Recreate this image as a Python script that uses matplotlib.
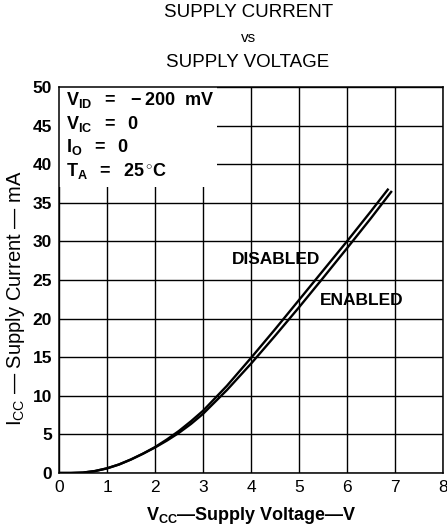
import matplotlib
matplotlib.use("Agg")
import matplotlib.pyplot as plt
from matplotlib.patches import Rectangle

plt.rcParams['font.family'] = ['Liberation Sans', 'DejaVu Sans']
plt.rcParams['mathtext.fontset'] = 'custom'
plt.rcParams['mathtext.rm'] = 'Liberation Sans'
plt.rcParams['mathtext.bf'] = 'Liberation Sans:bold'
plt.rcParams['mathtext.it'] = 'Liberation Sans'

# Supply current (mA) vs supply voltage (V)
v_disabled = [0, 0.25, 0.5, 0.75, 1.0, 1.25, 1.5, 1.75, 2.0, 2.25, 2.5, 2.75, 3.0,
              3.5, 4.0, 4.5, 5.0, 5.5, 6.0, 6.5, 6.85]
i_disabled = [0, 0.0, 0.05, 0.25, 0.6, 1.1, 1.75, 2.5, 3.35, 4.35, 5.45, 6.7, 8.05,
              11.3, 14.9, 18.6, 22.4, 26.2, 30.0, 33.9, 36.7]

v_enabled = [0, 0.25, 0.5, 0.75, 1.0, 1.25, 1.5, 1.75, 2.0, 2.25, 2.5, 2.75, 3.0,
             3.5, 4.0, 4.5, 5.0, 5.5, 6.0, 6.5, 6.92]
i_enabled = [0, 0.0, 0.05, 0.25, 0.6, 1.1, 1.75, 2.5, 3.3, 4.2, 5.2, 6.35, 7.65,
             10.75, 14.15, 17.75, 21.45, 25.25, 29.1, 33.0, 36.4]

x_ticks = [0, 1, 2, 3, 4, 5, 6, 7, 8]
y_ticks = [0, 5, 10, 15, 20, 25, 30, 35, 40, 45, 50]

fig = plt.figure(figsize=(4.47, 5.26), dpi=100)
ax = fig.add_axes([0.132, 0.1008, 0.859, 0.734])

ax.set_xlim(0, 8)
ax.set_ylim(0, 50)
ax.set_xticks(x_ticks)
ax.set_yticks(y_ticks)
ax.tick_params(length=0, pad=5)
ax.set_xticklabels([str(t) for t in x_ticks], fontsize=12.5)
ax.set_yticklabels([str(t) for t in y_ticks], fontsize=12.5, fontweight='bold')
ax.grid(True, color='black', linewidth=1.0)
ax.set_axisbelow(True)
for s in ax.spines.values():
    s.set_linewidth(1.1)

ax.plot(v_disabled, i_disabled, color='black', linewidth=1.7, zorder=3,
        solid_joinstyle='round')
ax.plot(v_enabled, i_enabled, color='black', linewidth=1.7, zorder=3,
        solid_joinstyle='round')

# Conditions box covers the grid in the upper-left corner
ax.add_patch(Rectangle((0, 37), 3.3, 13, facecolor='white', edgecolor='none', zorder=2))
cond = [r'$\mathbf{V_{ID}\ \ =\ \ -200\ \ mV}$',
        r'$\mathbf{V_{IC}\ \ =\ \ 0}$',
        r'$\mathbf{I_{O}\ \ =\ \ 0}$',
        r'$\mathbf{T_{A}\ \ =\ \ 25\,^{\circ}C}$']
for k, t in enumerate(cond):
    ax.text(0.15, 48.3 - k * 3.05, t, fontsize=13, va='center', ha='left', zorder=4)

ax.text(3.6, 27.6, 'DISABLED', fontsize=12.5, fontweight='bold', va='center', ha='left', zorder=4)
ax.text(5.44, 22.4, 'ENABLED', fontsize=12.5, fontweight='bold', va='center', ha='left', zorder=4)

ax.set_xlabel(r'$\mathbf{V_{CC}}$' + '\u2014Supply Voltage\u2014V', fontsize=13,
              fontweight='bold', labelpad=7)
ax.set_ylabel(r'$\mathrm{I_{CC}}$' + ' \u2014 Supply Current \u2014 mA', fontsize=14.5)
ax.yaxis.set_label_coords(-0.083, 0.453)

fig.text(0.555, 0.977, 'SUPPLY CURRENT', fontsize=13.5, ha='center', va='center')
fig.text(0.555, 0.928, 'vs', fontsize=11, ha='center', va='center')
fig.text(0.555, 0.882, 'SUPPLY VOLTAGE', fontsize=13.5, ha='center', va='center')

fig.savefig('out.png', dpi=100)
